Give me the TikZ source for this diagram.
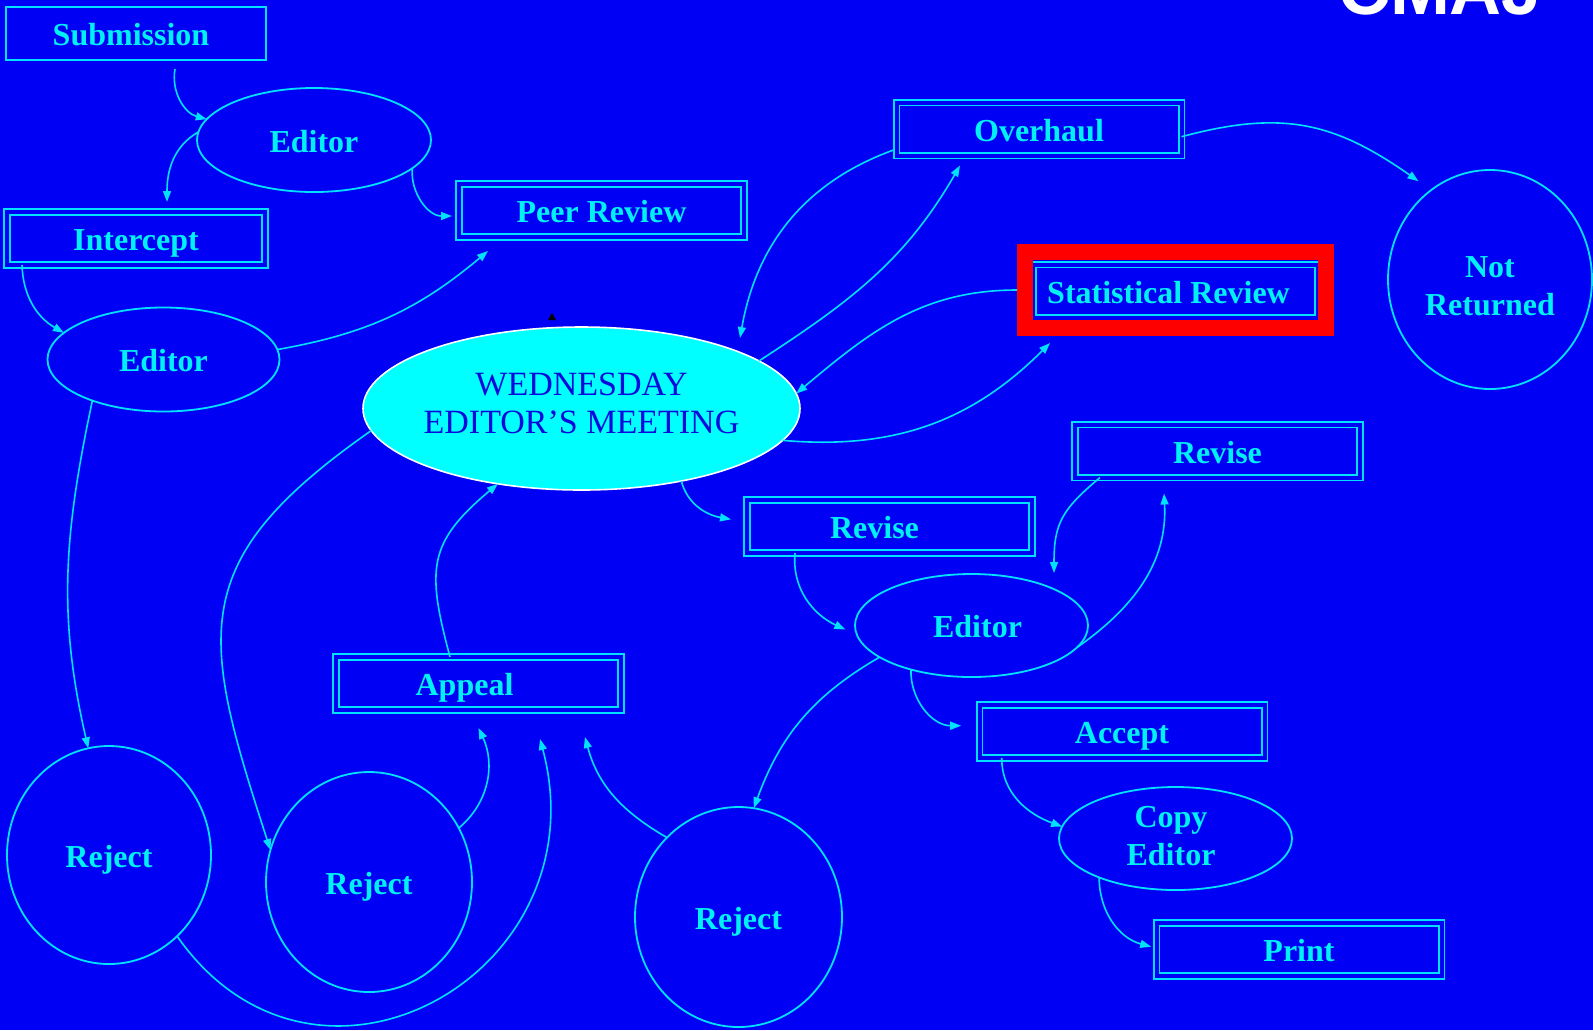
\documentclass[tikz,border=0pt]{standalone}
\usepackage{fontspec}
\setmainfont{Liberation Serif}
\setsansfont{Liberation Sans}
\usetikzlibrary{shapes.geometric,arrows.meta}

\definecolor{bgblue}{RGB}{0,0,245}
\definecolor{lncyan}{RGB}{0,225,255}
\definecolor{txcyan}{RGB}{0,240,245}
\definecolor{meetfill}{RGB}{0,255,255}
\definecolor{meettext}{RGB}{10,10,220}

\begin{document}
\begin{tikzpicture}[x=0.5pt, y=0.5pt]
        \tikzset{
            label/.style={text=txcyan, font=\fontsize{16}{19}\selectfont\bfseries, align=center, inner sep=0pt, outer sep=0pt},
            single/.style={text height=12pt, text depth=0pt},
            box/.style={label, single, rectangle, draw=lncyan, line width=0.9pt, minimum width=130pt, minimum height=26.5pt},
            dbox/.style={label, single, rectangle, draw=lncyan, line width=0.9pt, double=bgblue, double distance=2pt, minimum width=142.5pt, minimum height=26.5pt},
            oval/.style={label, ellipse, draw=lncyan, line width=0.9pt},
            meeting/.style={ellipse, draw=white, fill=meetfill, line width=0.8pt, text=meettext, font=\fontsize{17}{19}\selectfont, align=center, inner ysep=0pt, inner xsep=-30pt, outer sep=0pt, minimum width=218.5pt, minimum height=81.5pt},
            redframe/.style={rectangle, draw=red, line width=8pt, outer sep=4pt, minimum width=150.5pt, minimum height=38pt},
            link/.style={draw=lncyan, line width=0.8pt, -{Triangle[length=5.5pt,width=4pt]}}
        }

        \fill[bgblue] (0,0) rectangle (1593,-1030);
        \useasboundingbox (0,0) rectangle (1593,-1030);

        \begin{scope}
            \clip (0,0) rectangle (1593,-1030);
            \node[anchor=base, text=white, font=\fontsize{36}{36}\sffamily\bfseries] (logo) at (1440,-14) {CMAJ};
        \end{scope}

        \node[box] (sub) at (136,-33.5) {Submission\hspace*{5pt}};
        \node[oval, single, minimum width=117pt, minimum height=52pt] (edA) at (314,-140) {Editor};
        \node[dbox, minimum width=129pt] (icp) at (136,-238.5) {Intercept};
        \node[dbox] (peer) at (601.5,-210.5) {Peer Review};
        \node[oval, single, minimum width=116pt, minimum height=52pt] (edB) at (163.5,-359.5) {Editor};
        \node[meeting] (meet) at (581.5,-408.5) {WEDNESDAY\\EDITOR’S MEETING\rule[-5pt]{0pt}{5pt}};
        \node[dbox] (ovh) at (1039,-129) {Overhaul};
        \node[dbox] (stat) at (1175.5,-291) {Statistical Review\hspace*{7pt}};
        \node[redframe] (statfr) at (1175.5,-290) {};
        \node[oval, minimum width=102pt, minimum height=109.5pt] (notret) at (1490,-279.5) {\rule{0pt}{17.5pt}Not\\Returned};
        \node[dbox] (revA) at (1217.5,-451) {Revise};
        \node[dbox] (revB) at (889.5,-526.5) {Revise\hspace*{15pt}};
        \node[oval, single, minimum width=116.5pt, minimum height=51.5pt] (edC) at (971.5,-625.5) {\hspace*{6pt}Editor};
        \node[dbox] (app) at (478.5,-683.5) {Appeal\hspace*{14pt}};
        \node[dbox] (acc) at (1122,-731.5) {Accept};
        \node[oval, minimum width=116.5pt, minimum height=51.5pt] (cop) at (1175.5,-838.5) {Copy\hspace*{4.5pt}\\Editor\hspace*{4.5pt}\rule[-3pt]{0pt}{3pt}};
        \node[dbox] (prt) at (1299,-949.5) {Print};
        \node[oval, single, minimum width=102pt, minimum height=109pt] (rejA) at (109,-855) {Reject};
        \node[oval, single, minimum width=103pt, minimum height=110pt] (rejB) at (369,-882) {Reject};
        \node[oval, single, minimum width=103.5pt, minimum height=110pt] (rejC) at (738.5,-917) {Reject};

        \fill[black] (548,-320) -- (556,-320) -- (552,-313) -- cycle;

        \draw[link] ([xshift=19.5pt,yshift=-4.5pt]sub.south) to[out=260,in=165] (edA.169);
        \draw[link] (edA.176) to[out=210,in=90] ([xshift=15.5pt,yshift=5pt]icp.north);
        \draw[link] (edA.-16) to[out=265,in=180] ([xshift=-3.5pt,yshift=-2.75pt]peer.west);
        \draw[link] ([xshift=7.5pt]icp.south west) to[out=272,in=150] (edB.165);
        \draw[link] (edB.5) to[out=10,in=220] ([xshift=-56.75pt,yshift=-7pt]peer.south);
        \draw[link] (edB.210) to[out=258,in=103] (rejA.101);
        \draw[link] (meet.186) to[out=215,in=108,looseness=1.35] (rejB.162);
        \draw[link] (rejA.-50) to[out=-55,in=-75,looseness=1.5] ([xshift=30.75pt,yshift=-14.5pt]app.south);
        \draw[link] (rejB.31) to[out=40,in=-65] ([yshift=-9pt]app.south);
        \draw[link] (rejC.132) to[out=150,in=-75] ([xshift=53.25pt,yshift=-13.5pt]app.south);
        \draw[link] ([xshift=-14.25pt]app.north) to[out=105,in=220,looseness=1.3] (meet.222);
        \draw[link] (meet.-36) to[out=285,in=170] ([xshift=-8pt,yshift=3.6pt]revB.west);
        \draw[link] ([xshift=-47.25pt]revB.south) to[out=265,in=155] ([xshift=-5pt]edC.182);
        \draw[link] (edC.-12) to[out=35,in=-87] ([xshift=-26.75pt,yshift=-8pt]revA.south);
        \draw[link] ([xshift=-58.75pt]revA.south) to[out=220,in=90,looseness=1.2] ([xshift=41.25pt,yshift=0.5pt]edC.north);
        \draw[link] (edC.216) to[out=268,in=180] ([xshift=-9.15pt,yshift=2.9pt]acc.west);
        \draw[link] (edC.199) to[out=210,in=70] (rejC.82);
        \draw[link] ([xshift=-60.15pt]acc.south) to[out=270,in=160] (cop.174);
        \draw[link] (cop.207) to[out=270,in=165] ([xshift=-2.65pt,yshift=1.4pt]prt.west);
        \draw[link] (meet.15) to[out=33,in=240] ([xshift=-39.5pt,yshift=-5pt]ovh.south);
        \draw[link] ([xshift=-1.5pt,yshift=-10.5pt]ovh.west) to[out=200,in=80] ([xshift=79.25pt,yshift=-5.5pt]meet.north);
        \draw[link] ([yshift=-3.85pt]ovh.east) to[out=15,in=145,looseness=1.1] ([shift={(-4.4pt,6pt)}]notret.126);
        \draw[link] (statfr.west) to[out=180,in=40] (meet.4);
        \draw[link] (meet.-9) to[out=-5,in=225] ([xshift=-62.75pt,yshift=-3.5pt]statfr.south);
    \end{tikzpicture}
\end{document}
